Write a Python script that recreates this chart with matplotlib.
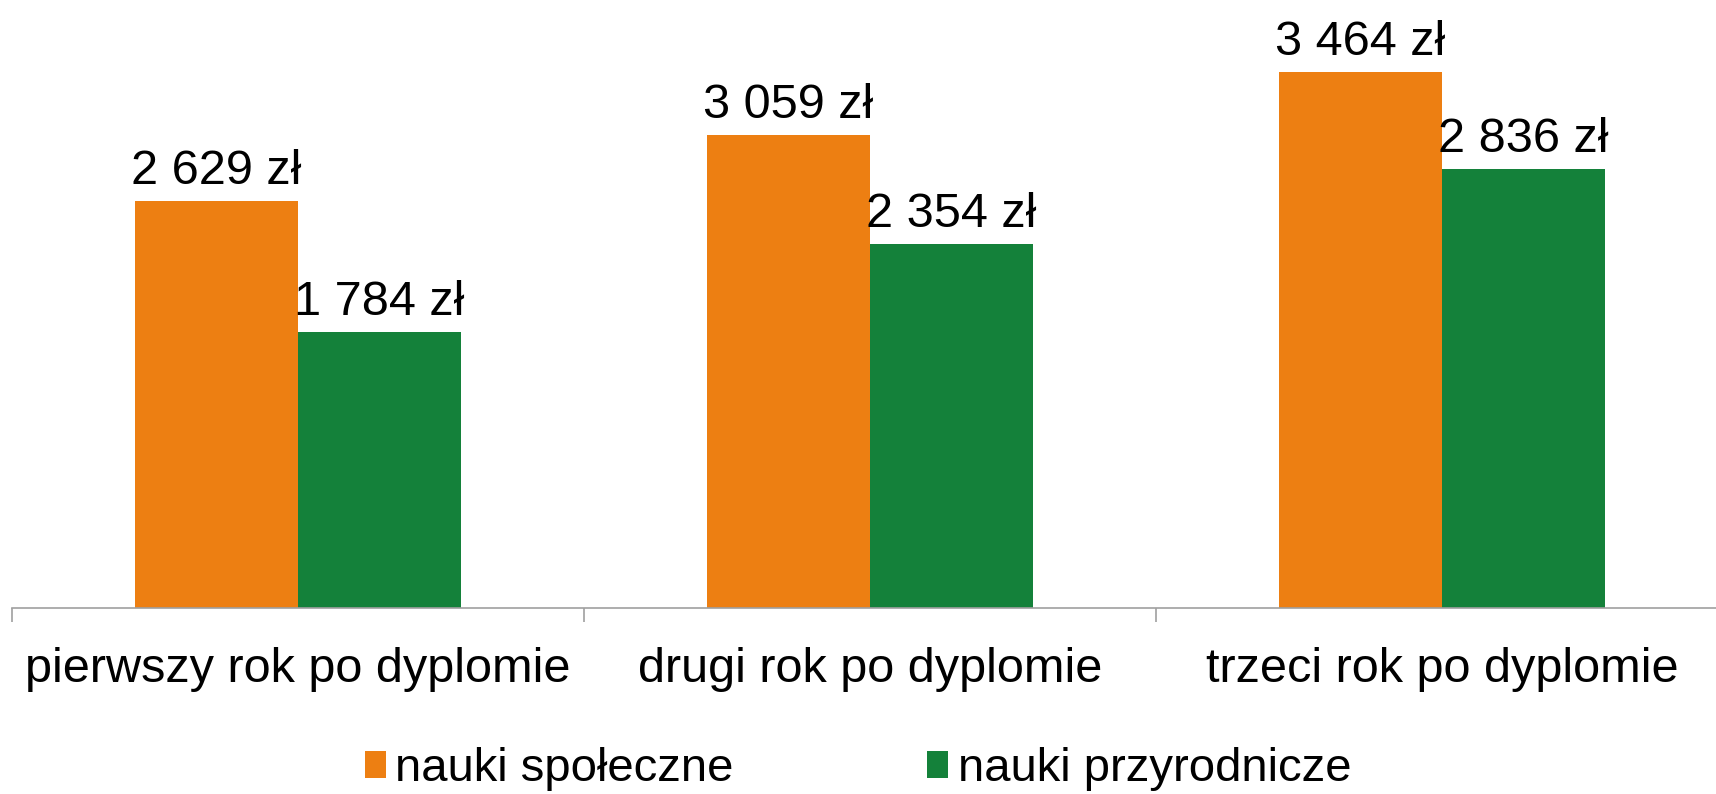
import numpy as np
import matplotlib
matplotlib.use('Agg')
import matplotlib.pyplot as plt

plt.rcParams['font.family'] = ['Liberation Sans', 'DejaVu Sans']

ORANGE = '#ED7F12'
GREEN = '#14813A'
AXIS = '#A0A0A0'

categories = ["pierwszy rok po dyplomie", "drugi rok po dyplomie", "trzeci rok po dyplomie"]
series_names = ["nauki społeczne", "nauki przyrodnicze"]
spoleczne = [2629, 3059, 3464]
przyrodnicze = [1784, 2354, 2836]

FS = 35


def fmt(v):
    return f"{v:,}".replace(",", " ") + " zł"


fig = plt.figure(figsize=(17.16, 7.94), dpi=100)
# axes spans slightly past the right edge, like the original
ax = fig.add_axes([12 / 1716, 186 / 794, 1.0, 608 / 794])

x = np.arange(len(categories))
w = 0.285
b1 = ax.bar(x - w / 2, spoleczne, w, color=ORANGE, label=series_names[0])
b2 = ax.bar(x + w / 2, przyrodnicze, w, color=GREEN, label=series_names[1])

for bars, vals in ((b1, spoleczne), (b2, przyrodnicze)):
    for r, v in zip(bars, vals):
        ax.annotate(fmt(v), (r.get_x() + r.get_width() / 2, v),
                    xytext=(0, 12), textcoords='offset points',
                    ha='center', va='baseline', fontsize=FS)

ax.set_xlim(-0.5, 2.5)
ax.set_ylim(0, 3928)

for s in ['top', 'right', 'left']:
    ax.spines[s].set_visible(False)
ax.spines['bottom'].set_color(AXIS)
ax.spines['bottom'].set_linewidth(1.2)
ax.set_yticks([])

ax.set_xticks([-0.5, 0.5, 1.5, 2.5])
ax.set_xticklabels([])
ax.tick_params(axis='x', which='major', length=10, width=1.2, color=AXIS)
ax.set_xticks(x, minor=True)
ax.set_xticklabels(categories, minor=True, fontsize=FS)
ax.tick_params(axis='x', which='minor', length=0, pad=28)

fig.legend(loc='center', bbox_to_anchor=(0.5, 1 - 769 / 794), ncol=2, frameon=False,
           fontsize=34, handlelength=0.45, handleheight=0.5, handletextpad=0.2,
           columnspacing=4.1)

fig.savefig('out.png', dpi=100)
